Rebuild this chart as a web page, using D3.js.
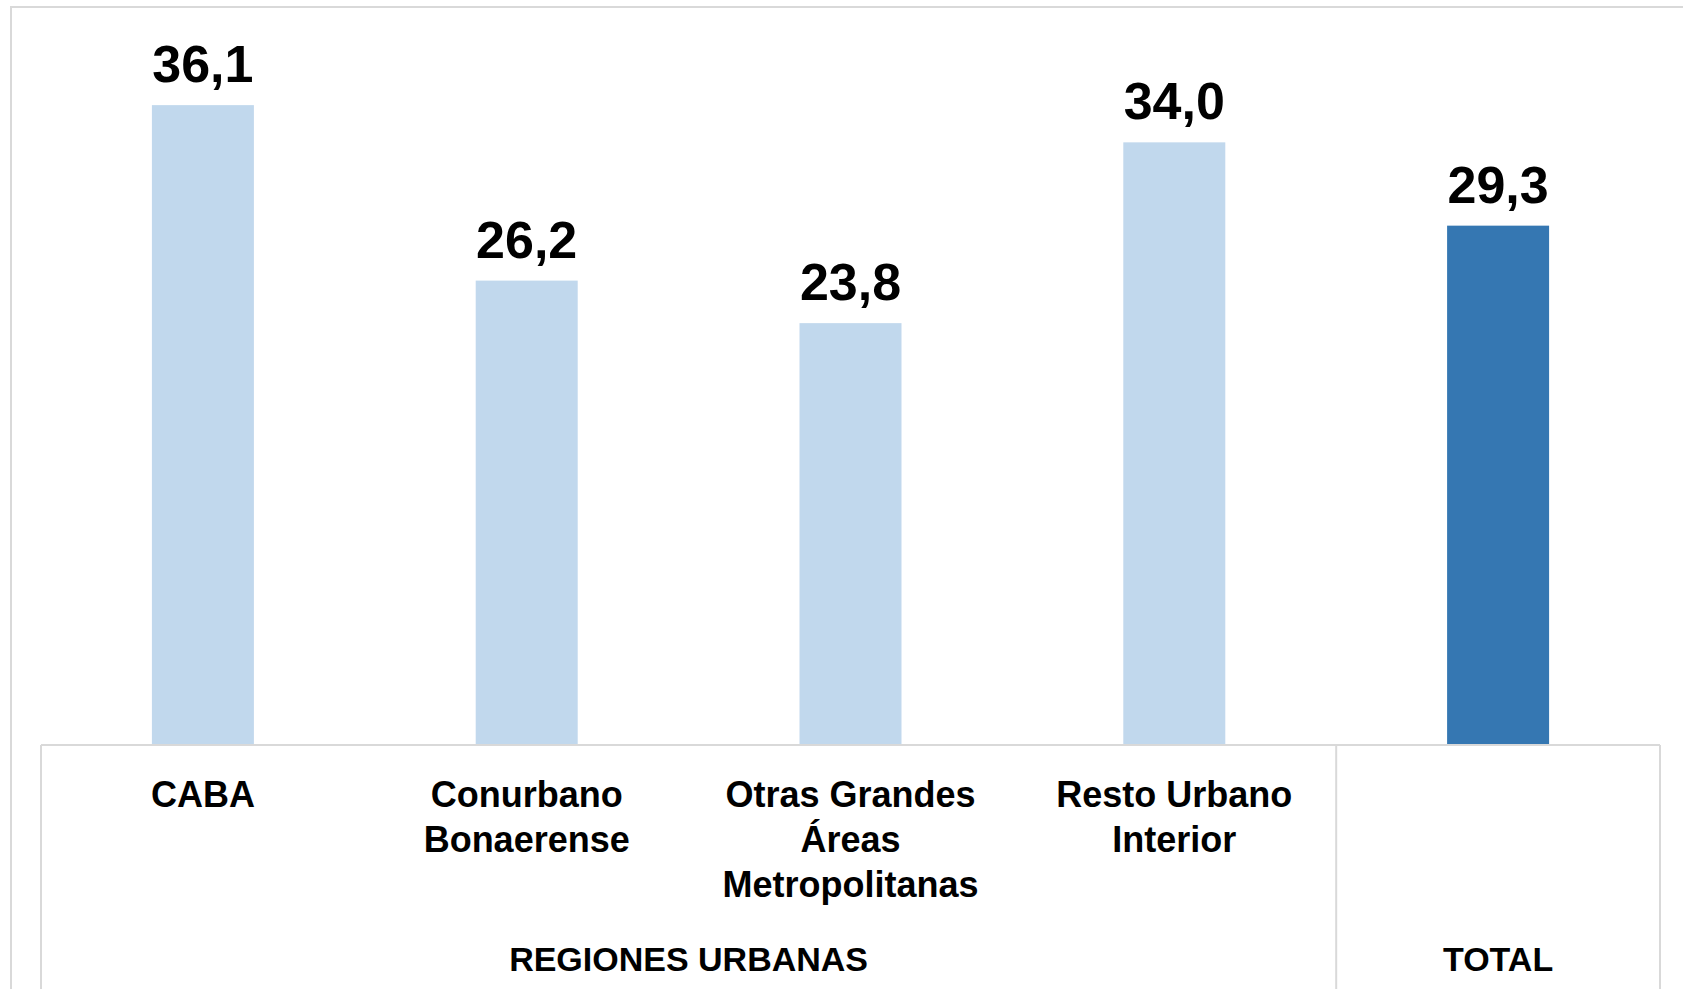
<!DOCTYPE html>
<html>
<head>
<meta charset="utf-8">
<script src="https://cdn.jsdelivr.net/npm/d3@7"></script>
<style>
  body { margin: 0; background: #fff; }
  text { font-family: "Liberation Sans", Arial, sans-serif; font-weight: bold; fill: #000; }
</style>
</head>
<body>
<div id="chart"></div>
<script>
// data
const categories = ['CABA', 'Conurbano Bonaerense', 'Otras Grandes Áreas Metropolitanas', 'Resto Urbano Interior', 'TOTAL'];
const labelLines = [['CABA'], ['Conurbano', 'Bonaerense'], ['Otras Grandes', 'Áreas', 'Metropolitanas'], ['Resto Urbano', 'Interior'], []];
const values = [36.1, 26.2, 23.8, 34.0, 29.3];
const groups = ['REGIONES URBANAS', 'REGIONES URBANAS', 'REGIONES URBANAS', 'REGIONES URBANAS', 'TOTAL'];

const width = 1683, height = 989;
const baseY = 745;
const lightBlue = '#c1d8ed', darkBlue = '#3577b2', gridGray = '#d9d9d9';

const svg = d3.select('#chart')
    .append('svg')
    .attr('width', width)
    .attr('height', height);

svg.append('rect').attr('width', width).attr('height', height).attr('fill', '#fff');

// outer chart border (top and left visible)
svg.append('path')
    .attr('d', `M11,${height} L11,7 L${width},7`)
    .attr('fill', 'none')
    .attr('stroke', gridGray)
    .attr('stroke-width', 2);

const x = d3.scaleBand()
    .domain(categories)
    .range([41, 1660])
    .paddingInner(0.685)
    .paddingOuter(0.3425);

const y = d3.scaleLinear()
    .domain([0, 40])
    .range([baseY, 36]);

const step = x.step();
const bw = x.bandwidth();
const center = d => x(d) + bw / 2;

// bars
svg.selectAll('.bar')
    .data(categories)
    .enter()
    .append('rect')
    .attr('class', 'bar')
    .attr('x', d => x(d))
    .attr('y', (d, i) => y(values[i]))
    .attr('width', bw)
    .attr('height', (d, i) => baseY - y(values[i]))
    .attr('fill', (d, i) => groups[i] === 'TOTAL' ? darkBlue : lightBlue);

// value labels
svg.selectAll('.val')
    .data(categories)
    .enter()
    .append('text')
    .attr('class', 'val')
    .attr('x', d => center(d))
    .attr('y', (d, i) => y(values[i]) - 23)
    .attr('text-anchor', 'middle')
    .style('font-size', '52px')
    .text((d, i) => values[i].toFixed(1).replace('.', ','));

// category axis frame
const left = x.range()[0];
const right = x.range()[1];
const divider = center(categories[4]) - step / 2;

const frame = svg.append('g')
    .attr('stroke', gridGray)
    .attr('stroke-width', 2)
    .attr('fill', 'none');

frame.append('line').attr('x1', left).attr('x2', right).attr('y1', baseY).attr('y2', baseY);
[left, divider, right].forEach(px => {
    frame.append('line').attr('x1', px).attr('x2', px).attr('y1', baseY).attr('y2', height);
});

// category labels
categories.forEach((c, i) => {
    const t = svg.append('text')
        .attr('text-anchor', 'middle')
        .style('font-size', '36px');
    labelLines[i].forEach((line, j) => {
        t.append('tspan')
            .attr('x', center(c))
            .attr('y', 807 + j * 45)
            .text(line);
    });
});

// group labels
const groupNames = Array.from(new Set(groups));
groupNames.forEach(g => {
    const gx0 = g === 'TOTAL' ? divider : left;
    const gx1 = g === 'TOTAL' ? right : divider;
    svg.append('text')
        .attr('x', (gx0 + gx1) / 2)
        .attr('y', 971)
        .attr('text-anchor', 'middle')
        .style('font-size', '34px')
        .text(g);
});
</script>
</body>
</html>
